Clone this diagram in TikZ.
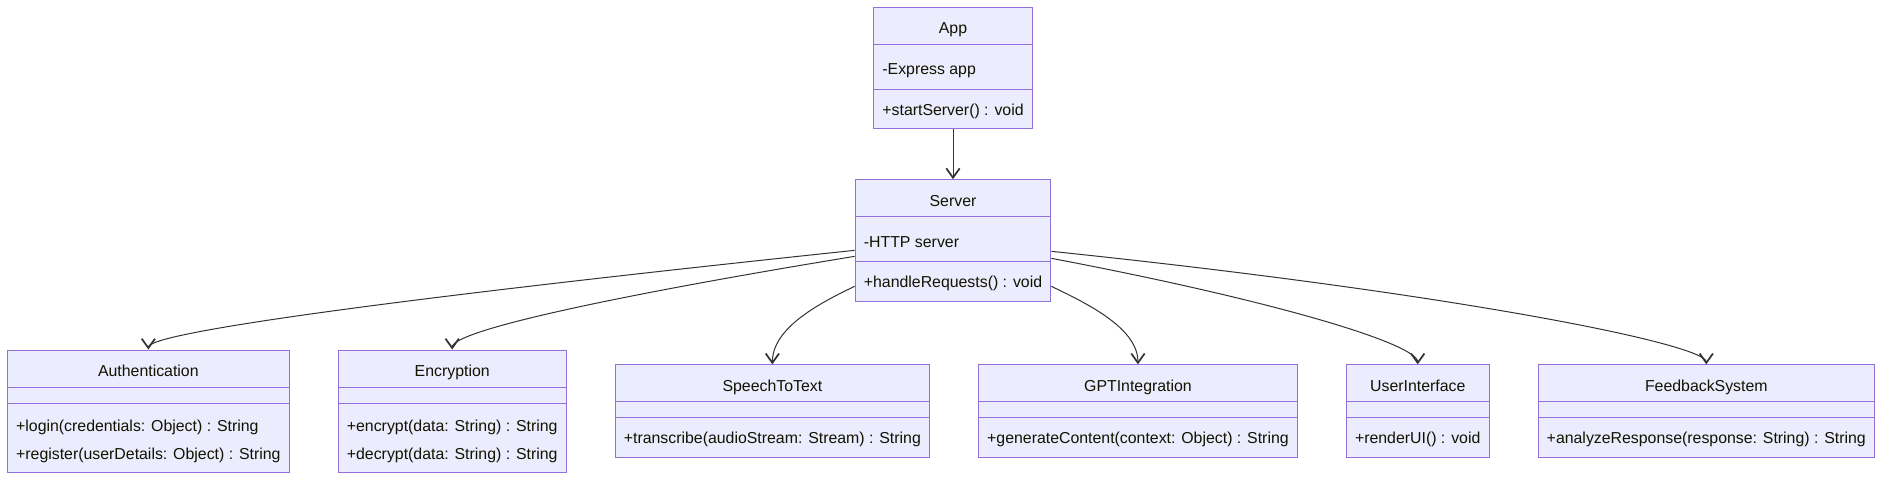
\documentclass[tikz,border=0pt]{standalone}
\usepackage{fontspec}
\setmainfont{Liberation Sans}
\usepackage{tikz}
\usetikzlibrary{positioning, shapes.multipart, arrows.meta}
\definecolor{umlfill}{HTML}{ECECFF}
\definecolor{umlborder}{HTML}{9370DB}
\definecolor{umlline}{HTML}{333333}
\definecolor{umltext}{HTML}{131300}

% rows of a class box
\newcommand{\ctitle}[1]{\rule[-7.5pt]{0pt}{27pt}#1}
\newcommand{\cempty}{\rule{0pt}{11.25pt}}
\newcommand{\cattr}[1]{\rule[-10.5pt]{0pt}{33pt}#1}
\newcommand{\cone}[1]{\rule[-9.75pt]{0pt}{28.75pt}#1}
\newcommand{\ctwo}[2]{\vbox{\baselineskip=21pt\lineskiplimit=-20pt\hbox{\rule{0pt}{21pt}#1}\hbox{\rule[-9pt]{0pt}{9pt}#2}}}

\begin{document}
\begin{tikzpicture}[
        x=0.75pt, y=-0.75pt,
        node distance = 37.5pt and 36pt,
        classbox/.style = {rectangle split, rectangle split parts=3, rectangle split part align={center,left,left}, draw=umlborder, fill=umlfill, line width=0.75pt, inner xsep=6.5pt, inner ysep=0pt, font=\fontsize{11.9}{14}\selectfont, text=umltext},
        arrow/.style = {draw=umlline, line width=0.75pt, -{Straight Barb[length=7pt, width=10pt, line width=1.3pt]}}
    ]
        \useasboundingbox (0,0) rectangle (1887,482);

        % Top
        \node (app) [classbox] at (953,68) {\ctitle{App}\nodepart{two}\cattr{-Express app}\nodepart{three}\cone{+startServer() : void}};
        \node (server) [classbox, below=of app] {\ctitle{Server}\nodepart{two}\cattr{-HTTP server}\nodepart{three}\cone{+handleRequests() : void}};

        % Components
        \node (auth) [classbox, anchor=west] at (7,411) {\ctitle{Authentication}\nodepart{two}\cempty\nodepart{three}\ctwo{+login(credentials: Object) : String}{+register(userDetails: Object) : String}};
        \node (enc) [classbox, right=of auth] {\ctitle{Encryption}\nodepart{two}\cempty\nodepart{three}\ctwo{+encrypt(data: String) : String}{+decrypt(data: String) : String}};
        \node (stt) [classbox, right=of enc] {\ctitle{SpeechToText}\nodepart{two}\cempty\nodepart{three}\cone{+transcribe(audioStream: Stream) : String}};
        \node (gpt) [classbox, right=of stt] {\ctitle{GPTIntegration}\nodepart{two}\cempty\nodepart{three}\cone{+generateContent(context: Object) : String}};
        \node (ui) [classbox, right=of gpt] {\ctitle{UserInterface}\nodepart{two}\cempty\nodepart{three}\cone{+renderUI() : void}};
        \node (fb) [classbox, right=of ui] {\ctitle{FeedbackSystem}\nodepart{two}\cempty\nodepart{three}\cone{+analyzeResponse(response: String) : String}};

        % Arrows
        \draw [arrow] (app) -- (server);

        \draw [arrow] ([yshift=-7.5pt]server.west) .. controls +(-456,48) and +(0,-17) .. (auth.north);
        \draw [arrow] ([yshift=-12pt]server.west) .. controls +(-256,42) and +(0,-18) .. (enc.north);
        \draw [arrow] ([yshift=-34.5pt]server.west) .. controls +(-40,19) and +(0,-35) .. (stt.north);
        \draw [arrow] ([yshift=-34.5pt]server.east) .. controls +(40,19) and +(0,-35) .. (gpt.north);
        \draw [arrow] ([yshift=-13.5pt]server.east) .. controls +(227,43) and +(0,-20) .. (ui.north);
        \draw [arrow] ([yshift=-8.25pt]server.east) .. controls +(405,42) and +(0,-20) .. (fb.north);

    \end{tikzpicture}
\end{document}
